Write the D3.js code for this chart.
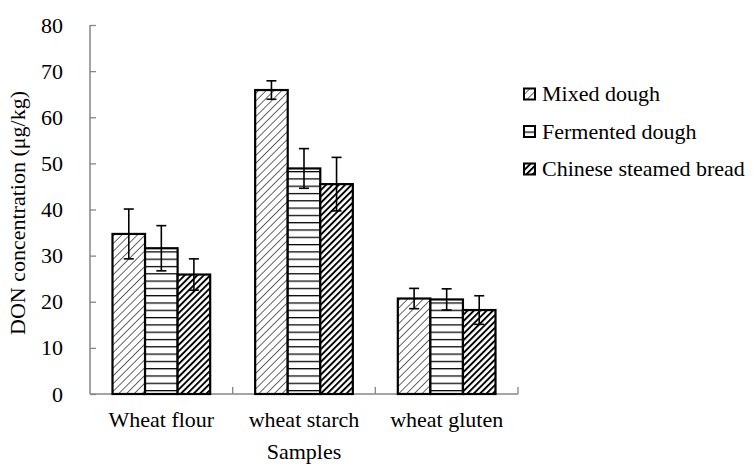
<!DOCTYPE html>
<html>
<head>
<meta charset="utf-8">
<script src="https://cdn.jsdelivr.net/npm/d3@7"></script>
<style>
  body { margin: 0; background: #fff; }
  text { font-family: "Liberation Serif", "Times New Roman", serif; fill: #000; }
</style>
</head>
<body>
<svg width="754" height="466"></svg>
<script>
// data
const samples = ["Wheat flour", "wheat starch", "wheat gluten"];
const seriesNames = ["Mixed dough", "Fermented dough", "Chinese steamed bread"];
const mixedDough = [34.7, 65.9, 20.7];
const fermentedDough = [31.6, 48.9, 20.5];
const steamedBread = [25.9, 45.5, 18.2];
const mixedErr = [5.4, 2.0, 2.2];
const fermentedErr = [4.9, 4.3, 2.3];
const steamedErr = [3.4, 5.8, 3.1];
const yTicks = [0, 10, 20, 30, 40, 50, 60, 70, 80];

const margin = {top: 25, left: 90};
const width = 428, height = 369;
const fontSize = "22px";

const svg = d3.select("svg");
const defs = svg.append("defs");

// hatch patterns
const p1 = defs.append("pattern").attr("id", "pat0")
    .attr("patternUnits", "userSpaceOnUse").attr("width", 5.5).attr("height", 5.5)
    .attr("patternTransform", "rotate(45)");
p1.append("rect").attr("width", 5.5).attr("height", 5.5).attr("fill", "#fff");
p1.append("line").attr("x1", 0).attr("y1", 0).attr("x2", 0).attr("y2", 5.5)
    .attr("stroke", "#000").attr("stroke-width", 1.2);

const p2 = defs.append("pattern").attr("id", "pat1")
    .attr("patternUnits", "userSpaceOnUse").attr("width", 8).attr("height", 7.3);
p2.append("rect").attr("width", 8).attr("height", 7.3).attr("fill", "#fff");
p2.append("line").attr("x1", 0).attr("y1", 0.6).attr("x2", 8).attr("y2", 0.6)
    .attr("stroke", "#000").attr("stroke-width", 1.3);

const p3 = defs.append("pattern").attr("id", "pat2")
    .attr("patternUnits", "userSpaceOnUse").attr("width", 4.5).attr("height", 4.5)
    .attr("patternTransform", "rotate(45)");
p3.append("rect").attr("width", 4.5).attr("height", 4.5).attr("fill", "#fff");
p3.append("line").attr("x1", 0.9).attr("y1", 0).attr("x2", 0.9).attr("y2", 4.5)
    .attr("stroke", "#000").attr("stroke-width", 2);

const g = svg.append("g").attr("transform", `translate(${margin.left},${margin.top})`);

const x0 = d3.scaleBand().domain(samples).range([0, width]).paddingInner(0).paddingOuter(0);
const x1 = d3.scaleBand().domain(seriesNames).range([22.5, x0.bandwidth() - 22.5]);
const y = d3.scaleLinear().domain([0, 80]).range([height, 0]);

const series = seriesNames.map((name, i) => ({
    name: name,
    values: [mixedDough, fermentedDough, steamedBread][i],
    errs: [mixedErr, fermentedErr, steamedErr][i]
}));

// axes
const axisColor = "#868686";
const yAxis = g.append("g").call(d3.axisLeft(y).tickValues(yTicks).tickSize(-6).tickPadding(27));
yAxis.select(".domain").attr("stroke", axisColor).attr("stroke-width", 1.5).attr("d", `M0,0V${height}`);
yAxis.selectAll(".tick line").attr("stroke", axisColor).attr("stroke-width", 1.3);
yAxis.selectAll(".tick text").attr("font-family", null).attr("font-size", null)
    .style("font-family", "Liberation Serif").style("font-size", fontSize);

const xg = g.append("g").attr("transform", `translate(0,${height})`);
xg.append("line").attr("x1", 0).attr("x2", width).attr("stroke", axisColor).attr("stroke-width", 1.5);
xg.selectAll(".xtick").data(samples).enter().append("line")
    .attr("x1", d => x0(d) + x0.bandwidth()).attr("x2", d => x0(d) + x0.bandwidth())
    .attr("y1", 0).attr("y2", -7).attr("stroke", axisColor).attr("stroke-width", 1.3);
xg.selectAll(".xlab").data(samples).enter().append("text")
    .attr("x", d => x0(d) + x0.bandwidth() / 2).attr("y", 33)
    .attr("text-anchor", "middle").style("font-size", fontSize).text(d => d);

// bars
const groups = g.selectAll(".series").data(series).enter().append("g");
groups.each(function(s, si) {
    const sel = d3.select(this);
    sel.selectAll("rect").data(samples).enter().append("rect")
        .attr("x", (d) => x0(d) + x1(s.name))
        .attr("y", (d, i) => y(s.values[i]))
        .attr("width", x1.bandwidth())
        .attr("height", (d, i) => height - y(s.values[i]))
        .attr("fill", `url(#pat${si})`)
        .attr("stroke", "#000").attr("stroke-width", 2.2);
});
// error bars
groups.each(function(s) {
    const sel = d3.select(this);
    samples.forEach((d, i) => {
        const cx = x0(d) + x1(s.name) + x1.bandwidth() / 2;
        const hi = y(s.values[i] + s.errs[i]), lo = y(s.values[i] - s.errs[i]);
        sel.append("line").attr("x1", cx).attr("x2", cx).attr("y1", hi).attr("y2", lo)
            .attr("stroke", "#000").attr("stroke-width", 1.6);
        [hi, lo].forEach(v => sel.append("line").attr("x1", cx - 5).attr("x2", cx + 5)
            .attr("y1", v).attr("y2", v).attr("stroke", "#000").attr("stroke-width", 1.6));
    });
});

// axis titles
svg.append("text").attr("transform", "translate(25,213) rotate(-90)")
    .attr("text-anchor", "middle").style("font-size", fontSize)
    .text("DON concentration (μg/kg)");
svg.append("text").attr("x", margin.left + width / 2).attr("y", 459)
    .attr("text-anchor", "middle").style("font-size", fontSize).text("Samples");

// legend
const legend = svg.append("g").attr("transform", "translate(524,94)");
seriesNames.forEach((name, i) => {
    const row = legend.append("g").attr("transform", `translate(0,${i * 37.5})`);
    row.append("rect").attr("x", 0).attr("y", -5.5).attr("width", 11).attr("height", 11)
        .attr("fill", `url(#pat${i})`).attr("stroke", "#000").attr("stroke-width", 2);
    row.append("text").attr("x", 18).attr("y", 7).style("font-size", fontSize).text(name);
});
</script>
</body>
</html>
